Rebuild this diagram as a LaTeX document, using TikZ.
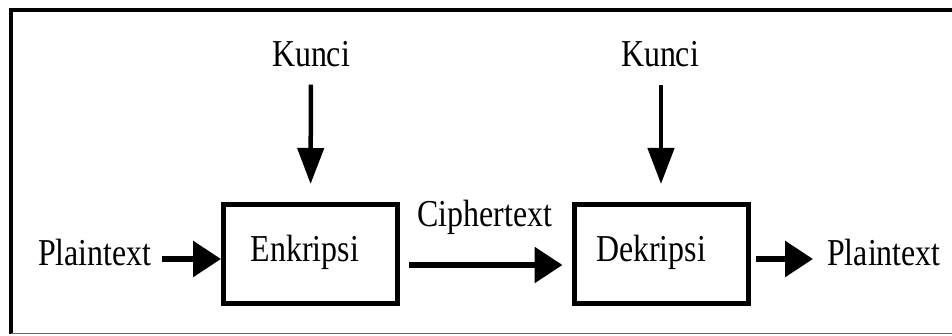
\documentclass[tikz,border=0pt]{standalone}
\usepackage{fontspec}
\newfontfamily\lblfont[FakeStretch=0.84]{Liberation Serif}
\usetikzlibrary{arrows.meta}
\begin{document}
\begin{tikzpicture}[x=1pt,y=-1pt,
  lbl/.style={inner sep=0pt, font=\lblfont\fontsize{38}{40}\selectfont},
  procbox/.style={draw, line width=5pt, minimum width=174pt, minimum height=99pt, inner sep=0pt},
  harrow/.style={line width=6pt, -{Triangle[length=28pt,width=35pt]}},
  varrow/.style={line width=4.5pt, -{Triangle[length=36pt,width=26pt]}}]
\useasboundingbox (0,0) rectangle (952,336);

% outer frame (top and left heavy, bottom hairline)
\draw[line width=4pt] (952,10.5) -- (10.5,10.5) -- (10.5,334);
\draw[line width=1pt, black!60] (10.5,333.5) -- (952,333.5);

% process boxes
\node[procbox] (enc) at (310.5,254) {};
\node[procbox] (dec) at (661,254) {};
\node[lbl, anchor=base] (enctxt) at (305,262) {Enkripsi};
\node[lbl, anchor=base] (dectxt) at (651,262) {Dekripsi};

% labels
\node[lbl, anchor=base] (k1) at (311,67) {Kunci};
\node[lbl, anchor=base] (k2) at (660,67) {Kunci};
\node[lbl, anchor=base west] (pin) at (38,266) {Plaintext};
\node[lbl, anchor=base west] (pout) at (827,266) {Plaintext};
\node[lbl, anchor=base] (ct) at (485,227) {Ciphertext};

% key arrows
\draw[varrow, shorten <=17pt, shorten >=18pt] (k1.south) -- (enc.north);
\draw[varrow, shorten <=17pt, shorten >=18pt] (k2.south -| dec.north) -- (dec.north);

% data flow
\draw[harrow, shorten <=10pt] (pin.east |- 0,259) -- (enc.west |- 0,259);
\draw[harrow, shorten <=9pt, shorten >=9pt] (enc.east |- 0,265) -- (dec.west |- 0,265);
\draw[harrow, shorten <=5pt, shorten >=14pt] (dec.east |- 0,259) -- (pout.west |- 0,259);
\end{tikzpicture}
\end{document}
